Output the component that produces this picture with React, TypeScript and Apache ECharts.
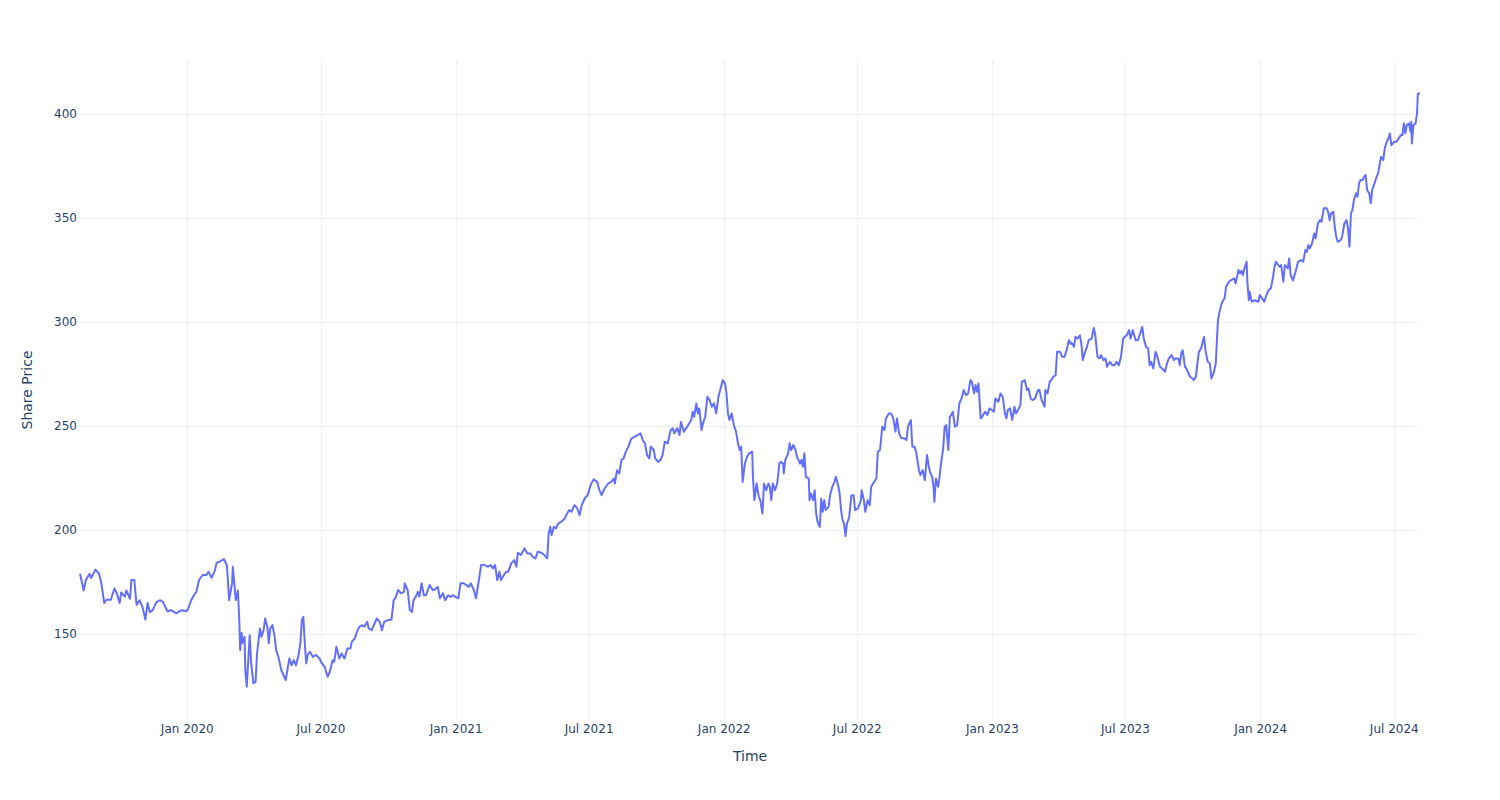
import React, { useEffect, useRef } from 'react';
import * as echarts from 'echarts';

const dates2019 = ['2019-08-08','2019-08-13','2019-08-16','2019-08-21','2019-08-23','2019-08-29','2019-09-03','2019-09-06','2019-09-10','2019-09-13','2019-09-19','2019-09-24','2019-09-27','2019-10-01','2019-10-03','2019-10-08','2019-10-10','2019-10-15','2019-10-17','2019-10-21','2019-10-24','2019-10-28','2019-11-01','2019-11-05','2019-11-08','2019-11-11','2019-11-15','2019-11-20','2019-11-25','2019-11-29','2019-12-05','2019-12-10','2019-12-17','2019-12-24','2019-12-31'];
const prices2019 = [179,171,176,179,177,181,179,174.5,165,166.5,166.5,172,169.7,165,170,168,171,167,176,176,164,166.3,163,157,165,160.6,161.5,165.4,166.3,165.4,161,161.5,160,161.5,161];

const dates2020 = ['2020-01-02','2020-01-06','2020-01-10','2020-01-13','2020-01-15','2020-01-17','2020-01-22','2020-01-27','2020-01-30','2020-02-03','2020-02-07','2020-02-10','2020-02-14','2020-02-20','2020-02-24','2020-02-25','2020-02-27','2020-03-02','2020-03-03','2020-03-05','2020-03-07','2020-03-10','2020-03-12','2020-03-13','2020-03-15','2020-03-16','2020-03-19','2020-03-20','2020-03-22','2020-03-26','2020-03-28','2020-03-31','2020-04-03','2020-04-05','2020-04-07','2020-04-09','2020-04-11','2020-04-14','2020-04-16','2020-04-19','2020-04-21','2020-04-23','2020-04-26','2020-04-29','2020-05-01','2020-05-04','2020-05-08','2020-05-12','2020-05-14','2020-05-17','2020-05-19','2020-05-22','2020-05-25','2020-05-28','2020-05-31','2020-06-03','2020-06-05','2020-06-07','2020-06-09','2020-06-11','2020-06-13','2020-06-16','2020-06-20','2020-06-24','2020-06-29','2020-07-02','2020-07-06','2020-07-10','2020-07-13','2020-07-17','2020-07-19','2020-07-22','2020-07-26','2020-07-29','2020-08-02','2020-08-06','2020-08-10','2020-08-12','2020-08-16','2020-08-19','2020-08-22','2020-08-26','2020-08-29','2020-09-02','2020-09-04','2020-09-08','2020-09-11','2020-09-15','2020-09-19','2020-09-22','2020-09-25','2020-09-30','2020-10-05','2020-10-08','2020-10-11','2020-10-14','2020-10-18','2020-10-22','2020-10-23','2020-10-27','2020-10-30','2020-11-02','2020-11-04','2020-11-07','2020-11-10','2020-11-12','2020-11-15','2020-11-18','2020-11-21','2020-11-26','2020-11-30','2020-12-03','2020-12-07','2020-12-10','2020-12-14','2020-12-17','2020-12-21','2020-12-24','2020-12-28','2020-12-31'];
const prices2020 = [162,166,168.7,170,172.7,176,178.4,178.4,180,177,180,184.3,184.8,186,183,177.5,166.3,174.5,182.4,174.5,166.3,171,155,142.3,150.5,145.7,148.7,132.7,124.7,149.5,136,126.4,127,140.7,147,152.7,148.7,152,157.5,153.5,145.6,152.7,154.3,148.7,142.3,139.1,132.7,129.5,127.9,134.3,138.3,135,137.5,135,139.1,145.5,156.7,158.3,145.5,135.9,140,141.5,139,140,138.3,136,134.3,129.5,131.9,137.5,136.7,143.9,138.3,140.7,138.3,143.1,143.1,146.3,147.9,151.1,153.5,154.3,153.5,155.9,152.7,151.9,154.3,157.5,155.9,151.9,155.9,156.7,157,166.3,167.9,171.2,169.6,170.3,174.4,171.2,161.5,160.7,166.3,168,170.3,168,174.4,168.7,168.7,173.6,171.2,171.4,172.7,167.2,169.6,166.3,168.7,167.9,168.7,167.9];

const dates2021 = ['2021-01-04','2021-01-07','2021-01-11','2021-01-15','2021-01-18','2021-01-21','2021-01-25','2021-01-28','2021-02-01','2021-02-04','2021-02-09','2021-02-13','2021-02-17','2021-02-20','2021-02-23','2021-02-26','2021-03-01','2021-03-03','2021-03-07','2021-03-10','2021-03-13','2021-03-17','2021-03-21','2021-03-24','2021-03-26','2021-03-30','2021-04-04','2021-04-08','2021-04-12','2021-04-15','2021-04-19','2021-04-22','2021-04-27','2021-05-01','2021-05-05','2021-05-07','2021-05-09','2021-05-11','2021-05-14','2021-05-17','2021-05-20','2021-05-24','2021-05-29','2021-06-01','2021-06-04','2021-06-07','2021-06-11','2021-06-15','2021-06-18','2021-06-21','2021-06-25','2021-06-29','2021-07-03','2021-07-07','2021-07-12','2021-07-15','2021-07-18','2021-07-22','2021-07-27','2021-07-31','2021-08-04','2021-08-05','2021-08-08','2021-08-11','2021-08-14','2021-08-17','2021-08-20','2021-08-24','2021-08-27','2021-09-01','2021-09-05','2021-09-09','2021-09-12','2021-09-15','2021-09-18','2021-09-21','2021-09-23','2021-09-27','2021-09-29','2021-10-03','2021-10-06','2021-10-09','2021-10-12','2021-10-16','2021-10-20','2021-10-23','2021-10-25','2021-10-29','2021-11-01','2021-11-03','2021-11-07','2021-11-10','2021-11-13','2021-11-17','2021-11-19','2021-11-21','2021-11-24','2021-11-26','2021-11-28','2021-12-01','2021-12-03','2021-12-06','2021-12-09','2021-12-12','2021-12-15','2021-12-18','2021-12-21','2021-12-24','2021-12-27','2021-12-30'];
const prices2021 = [167.2,174.4,174.4,173.6,172.7,174.4,171.2,167.2,176,183.2,183.2,182.4,183.2,181.6,183.2,176,180,176,178.4,180,180,184,185.6,182.4,189.1,188,191.2,188.8,188.8,187.2,186.4,189.6,189.1,188,186.4,198.4,201.6,197.6,201.6,200.8,203.2,204,205.6,208,209.6,208.8,212,210.4,207.2,212,215.2,216.8,221.6,224.4,223.2,219.2,216.8,220,222.4,223.2,224.8,222.4,228.8,227.2,233.7,234.5,237.7,240.5,243.7,244.9,245.7,246.5,243.3,241.7,236,234.5,240.1,238.5,234.5,232.8,233.7,236,242.5,241.7,248.1,248.9,246.5,248.9,245.7,252,247.3,248.9,250.5,252.9,256.9,254.5,260.9,256.1,258.5,248.1,251.3,254.5,264.1,262.5,259.3,260.9,256.1,264.1,268.1,272.1];

const dates2022 = ['2022-01-02','2022-01-04','2022-01-06','2022-01-08','2022-01-11','2022-01-14','2022-01-17','2022-01-20','2022-01-22','2022-01-24','2022-01-26','2022-01-29','2022-02-01','2022-02-04','2022-02-08','2022-02-09','2022-02-11','2022-02-14','2022-02-17','2022-02-19','2022-02-22','2022-02-24','2022-02-27','2022-03-02','2022-03-04','2022-03-06','2022-03-08','2022-03-11','2022-03-14','2022-03-17','2022-03-19','2022-03-22','2022-03-23','2022-03-25','2022-03-29','2022-03-31','2022-04-02','2022-04-05','2022-04-08','2022-04-10','2022-04-14','2022-04-16','2022-04-18','2022-04-20','2022-04-22','2022-04-26','2022-04-27','2022-04-29','2022-05-02','2022-05-04','2022-05-06','2022-05-08','2022-05-11','2022-05-13','2022-05-15','2022-05-17','2022-05-19','2022-05-23','2022-05-25','2022-05-28','2022-05-31','2022-06-02','2022-06-05','2022-06-07','2022-06-09','2022-06-11','2022-06-13','2022-06-15','2022-06-17','2022-06-20','2022-06-23','2022-06-26','2022-06-28','2022-07-02','2022-07-06','2022-07-07','2022-07-10','2022-07-12','2022-07-15','2022-07-18','2022-07-20','2022-07-24','2022-07-27','2022-07-29','2022-08-01','2022-08-04','2022-08-07','2022-08-09','2022-08-13','2022-08-16','2022-08-19','2022-08-22','2022-08-24','2022-08-27','2022-08-30','2022-09-03','2022-09-06','2022-09-08','2022-09-12','2022-09-14','2022-09-17','2022-09-19','2022-09-23','2022-09-25','2022-09-28','2022-10-01','2022-10-04','2022-10-06','2022-10-08','2022-10-11','2022-10-13','2022-10-14','2022-10-16','2022-10-19','2022-10-21','2022-10-23','2022-10-26','2022-10-28','2022-10-30','2022-11-02','2022-11-04','2022-11-06','2022-11-08','2022-11-11','2022-11-14','2022-11-17','2022-11-20','2022-11-23','2022-11-26','2022-11-29','2022-12-02','2022-12-04','2022-12-07','2022-12-09','2022-12-11','2022-12-13','2022-12-16','2022-12-18','2022-12-22','2022-12-25','2022-12-28','2022-12-31'];
const prices2022 = [270.5,265.7,256.1,252.9,256.1,250.5,247.3,240.9,238.5,240.1,223.2,232,235.2,236.9,237.7,225.6,214.4,222.4,216,214.4,208,222.4,219.2,222.4,220.8,214.4,222.4,219.2,222.4,232,232.8,232,227.2,233.7,236.9,241.7,238.5,240.9,238.5,235.2,232,233.7,230.4,236.9,225.6,224.8,214.4,217.6,214.4,219.2,208,204,201.6,215.2,208.8,214.4,209.6,211.2,216.8,220.8,223.2,225.6,221.6,217.6,209.6,204.8,203.2,197.1,203.2,206,216.8,216.8,209.6,210.4,214.4,219.2,214.4,208.8,214.4,212,220.8,223.2,224.8,237.7,238.5,249.7,248.1,253.7,256.1,256.1,253.7,247.3,253.7,246.5,244.1,244.1,243.3,249.7,252.9,240.1,240.1,237.7,228.8,226.4,228.8,224,236.1,231.2,228,225.6,220,213.6,224.8,220.8,225.6,232,239.3,249.7,250.5,238.5,254.5,255.3,256.9,249.7,250.5,261,263.3,267.3,264.9,265.7,272.1,271.3,265.7,269.7,266.5,270.5,253.7,254.5,256.9,255.3,258.5,257.7];

const dates2023 = ['2023-01-03','2023-01-05','2023-01-09','2023-01-12','2023-01-15','2023-01-18','2023-01-20','2023-01-22','2023-01-25','2023-01-28','2023-01-31','2023-02-02','2023-02-06','2023-02-08','2023-02-10','2023-02-14','2023-02-17','2023-02-19','2023-02-22','2023-02-25','2023-02-28','2023-03-04','2023-03-06','2023-03-09','2023-03-11','2023-03-13','2023-03-14','2023-03-17','2023-03-20','2023-03-22','2023-03-25','2023-03-28','2023-03-30','2023-04-03','2023-04-06','2023-04-09','2023-04-12','2023-04-15','2023-04-18','2023-04-19','2023-04-22','2023-04-24','2023-04-27','2023-04-30','2023-05-02','2023-05-04','2023-05-07','2023-05-09','2023-05-12','2023-05-16','2023-05-19','2023-05-21','2023-05-24','2023-05-27','2023-05-29','2023-06-01','2023-06-04','2023-06-06','2023-06-10','2023-06-13','2023-06-16','2023-06-19','2023-06-22','2023-06-25','2023-06-28','2023-06-30','2023-07-03','2023-07-06','2023-07-08','2023-07-11','2023-07-15','2023-07-18','2023-07-21','2023-07-24','2023-07-26','2023-07-29','2023-08-01','2023-08-03','2023-08-05','2023-08-08','2023-08-11','2023-08-13','2023-08-17','2023-08-20','2023-08-24','2023-08-26','2023-08-29','2023-09-02','2023-09-05','2023-09-07','2023-09-11','2023-09-13','2023-09-15','2023-09-17','2023-09-20','2023-09-22','2023-09-24','2023-09-27','2023-09-30','2023-10-02','2023-10-05','2023-10-07','2023-10-09','2023-10-12','2023-10-16','2023-10-18','2023-10-21','2023-10-24','2023-10-26','2023-10-29','2023-11-01','2023-11-03','2023-11-04','2023-11-06','2023-11-09','2023-11-11','2023-11-13','2023-11-15','2023-11-19','2023-11-22','2023-11-26','2023-11-28','2023-12-02','2023-12-04','2023-12-06','2023-12-08','2023-12-10','2023-12-13','2023-12-14','2023-12-16','2023-12-17','2023-12-20','2023-12-24','2023-12-29','2023-12-31'];
const prices2023 = [256.9,263.3,261.7,265.7,264.1,256.1,253.7,257.7,258.5,252.9,259.3,256.1,258.5,260.1,271.3,272.1,267.3,268.1,263.3,262.5,263.3,267.3,267.3,262.5,260.9,259.3,267.3,265.7,271.3,272.1,273.7,274.5,285.7,285.7,283.3,283.3,286.5,291.3,289.5,290,288.1,292.9,292.1,293.7,289.7,281.7,285.7,287.3,291.3,292.1,297.2,293.7,283.3,282.5,284.1,281.7,282.5,278.5,280.9,279.3,279.3,280.9,279.3,283.3,292.1,292.9,293.7,296.1,292.1,296.1,291.3,291.3,294.5,297.7,292.1,288.1,287.3,279.3,280.9,277.7,285.7,284.1,278.5,277.7,276.1,279.3,282.5,284.1,281.7,282.5,282.5,279.3,285,286.5,278.5,277.7,276.1,273.7,272.9,272.1,273.7,280.1,285.7,287.3,292.9,286.5,280.9,280.1,272.9,275.3,280.1,294.5,300.9,304.9,308.9,310.5,311.4,317,319.4,320.2,321,318.6,325,323.4,324.7,322.6,325.8,329,319.4,310.5,314.6,309.8,310.5,309.8,313];

const dates2024 = ['2024-01-03','2024-01-06','2024-01-09','2024-01-12','2024-01-15','2024-01-18','2024-01-20','2024-01-22','2024-01-25','2024-01-27','2024-01-29','2024-02-01','2024-02-03','2024-02-07','2024-02-09','2024-02-11','2024-02-14','2024-02-17','2024-02-21','2024-02-25','2024-02-28','2024-03-02','2024-03-04','2024-03-06','2024-03-08','2024-03-11','2024-03-14','2024-03-16','2024-03-19','2024-03-22','2024-03-24','2024-03-27','2024-03-31','2024-04-02','2024-04-04','2024-04-06','2024-04-09','2024-04-11','2024-04-13','2024-04-15','2024-04-19','2024-04-21','2024-04-24','2024-04-27','2024-04-29','2024-05-01','2024-05-03','2024-05-05','2024-05-07','2024-05-10','2024-05-12','2024-05-14','2024-05-16','2024-05-19','2024-05-21','2024-05-23','2024-05-25','2024-05-28','2024-05-30','2024-06-01','2024-06-04','2024-06-07','2024-06-09','2024-06-11','2024-06-13','2024-06-16','2024-06-18','2024-06-20','2024-06-23','2024-06-25','2024-06-27','2024-07-01','2024-07-04','2024-07-07','2024-07-10','2024-07-12','2024-07-14','2024-07-16','2024-07-18','2024-07-21','2024-07-23','2024-07-24','2024-07-25','2024-07-27','2024-07-30','2024-08-01','2024-08-02','2024-08-05'];
const prices2024 = [311.4,309.8,313,315.4,316.2,321.8,326.6,329,327.4,326.6,327.4,319.4,327.4,325.8,330.6,322.6,320,323.4,329,329.8,329,334.6,333.8,337,335.4,337.8,342.6,340.2,347.4,349,348.2,354.7,354.7,353,349,352.3,353,345.8,341,338.6,339.4,341,347.4,349,345,336.2,352.3,353.8,358.7,361.9,360.3,366.7,368.3,368.3,369.9,370.7,363.5,361.9,357.1,363.5,366.7,369.9,371.5,375.5,379.5,377.9,383.5,385.9,388.3,390.7,385.1,386.7,386.7,388.3,389.9,389.9,395.5,390.7,394.7,395.5,391.5,396.3,385.9,394.7,395.5,400.3,409.9,409.9];

const tickDates = ['2020-01-01','2020-07-01','2021-01-01','2021-07-01','2022-01-01','2022-07-01','2023-01-01','2023-07-01','2024-01-01','2024-07-01'];
const tickLabels = ['Jan 2020','Jul 2020','Jan 2021','Jul 2021','Jan 2022','Jul 2022','Jan 2023','Jul 2023','Jan 2024','Jul 2024'];
const yTicks = [150, 200, 250, 300, 350, 400];
const xStart = '2019-08-08';
const xEnd = '2024-08-05';
const yMin = 108.7;
const yMax = 426;

function toTime(s: string): number {
  const [y, m, d] = s.split('-').map(Number);
  return Date.UTC(y, m - 1, d);
}

export default function App() {
  const ref = useRef<HTMLDivElement>(null);
  useEffect(() => {
    if (!ref.current) return;
    const chart = echarts.init(ref.current, null, { renderer: 'svg' });
    const dates = [...dates2019, ...dates2020, ...dates2021, ...dates2022, ...dates2023, ...dates2024];
    const prices = [...prices2019, ...prices2020, ...prices2021, ...prices2022, ...prices2023, ...prices2024];
    const data = dates.map((d, i) => [toTime(d), prices[i]]);
    const tickTimes = tickDates.map(toTime);
    const labelFor = (v: number) => {
      for (let i = 0; i < tickTimes.length; i++) {
        if (Math.abs(tickTimes[i] - v) < 43200000) return tickLabels[i];
      }
      return '';
    };
    const font = 'DejaVu Sans';
    chart.setOption({
      animation: false,
      backgroundColor: '#ffffff',
      textStyle: { fontFamily: font },
      grid: { left: 80, right: 80, top: 60, bottom: 80, containLabel: false },
      xAxis: {
        type: 'value',
        min: toTime(xStart),
        max: toTime(xEnd),
        scale: true,
        name: 'Time',
        nameLocation: 'middle',
        nameGap: 29,
        nameTextStyle: { color: '#2a3f5f', fontSize: 14, fontFamily: font },
        axisLine: { show: false },
        axisTick: { show: false, customValues: tickTimes },
        axisLabel: {
          customValues: tickTimes,
          formatter: (v: number) => labelFor(v),
          color: '#2a3f5f',
          fontSize: 12,
          fontFamily: font,
          margin: 3,
          hideOverlap: false,
        },
        splitLine: { show: true, lineStyle: { color: '#EBF0F8', width: 1 } },
      },
      yAxis: {
        type: 'value',
        min: yMin,
        max: yMax,
        name: 'Share Price',
        nameLocation: 'middle',
        nameGap: 46,
        nameTextStyle: { color: '#2a3f5f', fontSize: 14, fontFamily: font },
        axisLine: { show: false },
        axisTick: { show: false, customValues: yTicks },
        axisLabel: {
          customValues: yTicks,
          color: '#2a3f5f',
          fontSize: 12,
          fontFamily: font,
          margin: 3,
        },
        splitLine: { show: true, lineStyle: { color: '#EBF0F8', width: 1 } },
      },
      series: [
        {
          type: 'line',
          data,
          symbol: 'none',
          showSymbol: false,
          lineStyle: { color: '#636efa', width: 2, join: 'round' },
          itemStyle: { color: '#636efa' },
        },
      ],
    });
    return () => chart.dispose();
  }, []);
  return <div ref={ref} style={{ position: 'fixed', left: 0, top: 0, width: 1500, height: 800, background: '#fff' }} />;
}
